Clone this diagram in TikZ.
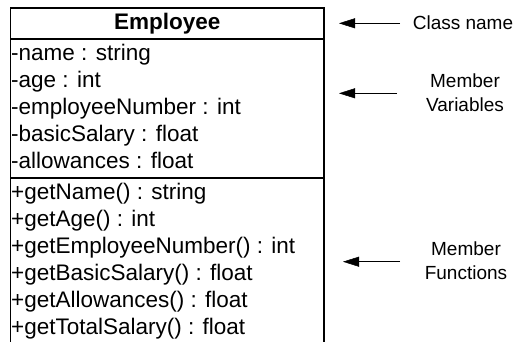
\documentclass[tikz,border=0pt]{standalone}
\usepackage{fontspec}
\setmainfont{Liberation Sans}
\usetikzlibrary{arrows.meta}
\begin{document}
\begin{tikzpicture}[x=1pt,y=-1pt,
  frame/.style={draw, line width=1.8pt, inner sep=0pt, anchor=north west,
    minimum width=313.8pt},
  member/.style={anchor=base west, inner sep=0pt,
    font=\fontsize{22.5}{27}\selectfont},
  note/.style={anchor=base, align=center, inner sep=0pt,
    font=\fontsize{19}{23.5}\selectfont},
  pointer/.style={line width=1.5pt,
    -{Triangle[length=16pt,width=10pt,line width=0.5pt]}}]
\useasboundingbox (0,0) rectangle (516,341);
\clip (0,0) rectangle (516,341);

% class compartments: name, attributes, operations (the last runs off the page)
\node[frame, minimum height=31pt,
  font=\fontsize{22.5}{27}\selectfont\bfseries] (head) at (9.5,7) {Employee};
\node[frame, minimum height=139pt] (attrs) at (9.5,38) {};
\node[frame, minimum height=200pt] (ops) at (9.5,177) {};

% member variables
\node[member] (v1) at (11,60.0)  {-name : string};
\node[member] (v2) at (11,87.1)  {-age : int};
\node[member] (v3) at (11,114.2) {-employeeNumber : int};
\node[member] (v4) at (11,141.3) {-basicSalary : float};
\node[member] (v5) at (11,168.4) {-allowances : float};

% member functions
\node[member] (f1) at (11,199.3) {+getName() : string};
\node[member] (f2) at (11,226.4) {+getAge() : int};
\node[member] (f3) at (11,253.5) {+getEmployeeNumber() : int};
\node[member] (f4) at (11,280.6) {+getBasicSalary() : float};
\node[member] (f5) at (11,307.7) {+getAllowances() : float};
\node[member] (f6) at (11,334.8) {+getTotalSalary() : float};

% annotations (base anchor sits on the last line)
\node[note] (nclass) at (463,29.5) {Class name};
\node[note] (nvars)  at (465,111) {Member\\Variables};
\node[note] (nfuncs) at (466,279.3) {Member\\Functions};

% pointer ends
\coordinate (tA) at (400,23.3);
\coordinate (hA) at (339,23.3);
\coordinate (tB) at (397,93.3);
\coordinate (hB) at (339,93.3);
\coordinate (tC) at (400,261.7);
\coordinate (hC) at (343,261.7);

\draw[pointer] (tA) -- (hA);
\draw[pointer] (tB) -- (hB);
\draw[pointer] (tC) -- (hC);
\end{tikzpicture}
\end{document}
